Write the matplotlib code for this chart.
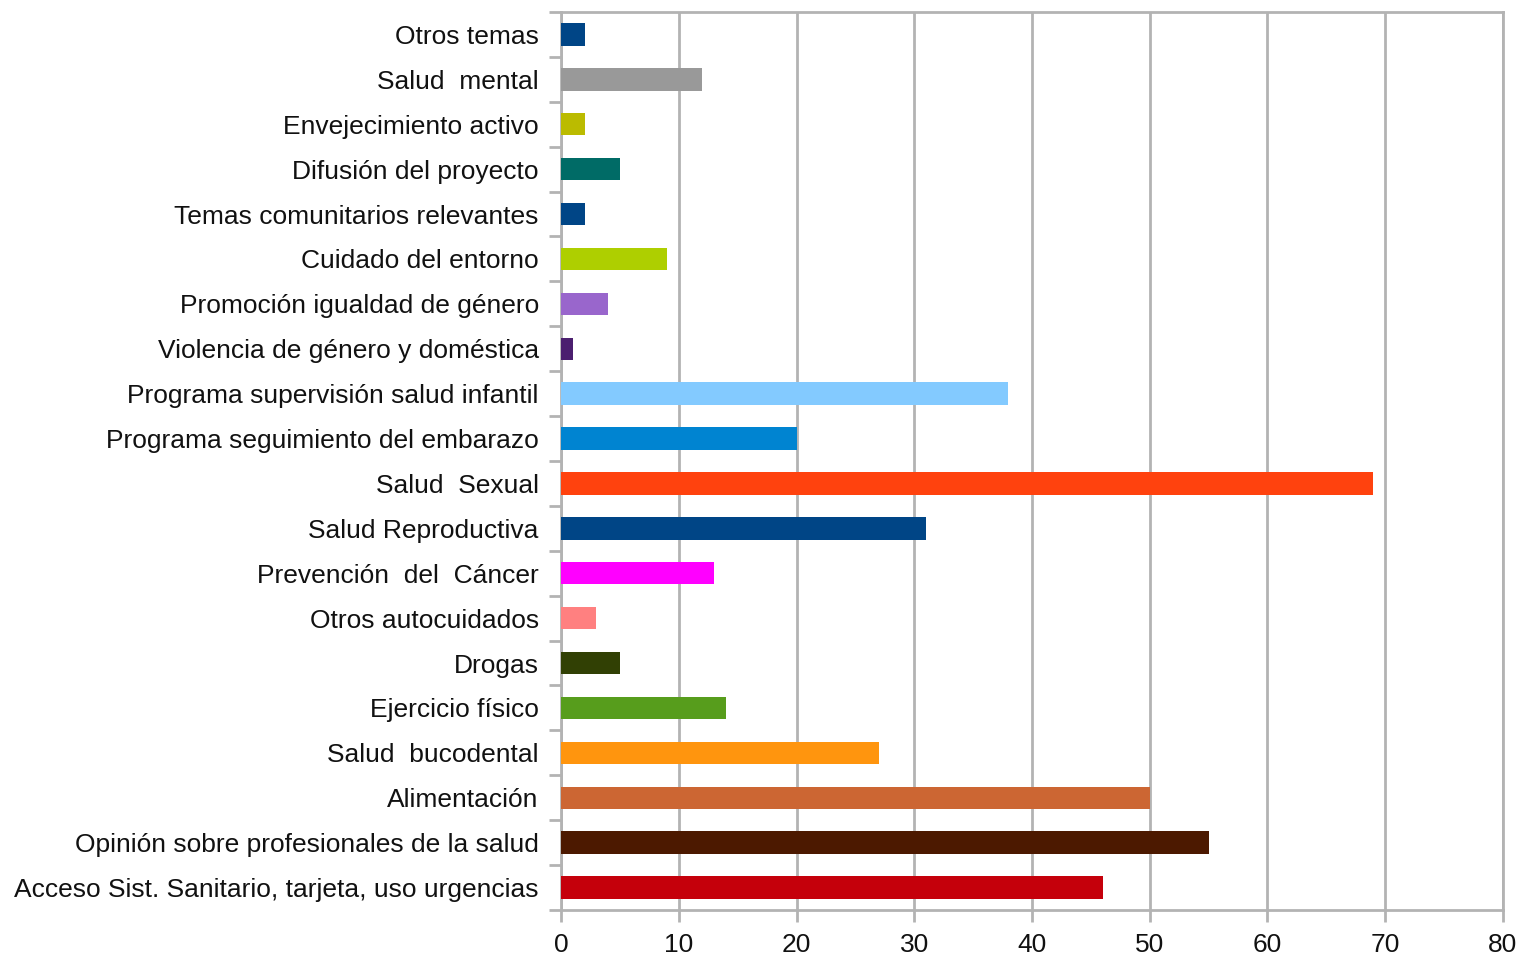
import matplotlib.pyplot as plt
import numpy as np

# categories listed from bottom to top of the chart
temas = ['Acceso Sist. Sanitario, tarjeta, uso urgencias',
         'Opinión sobre profesionales de la salud',
         'Alimentación',
         'Salud  bucodental',
         'Ejercicio físico',
         'Drogas',
         'Otros autocuidados',
         'Prevención  del  Cáncer',
         'Salud Reproductiva',
         'Salud  Sexual',
         'Programa seguimiento del embarazo',
         'Programa supervisión salud infantil',
         'Violencia de género y doméstica',
         'Promoción igualdad de género',
         'Cuidado del entorno',
         'Temas comunitarios relevantes',
         'Difusión del proyecto',
         'Envejecimiento activo',
         'Salud  mental',
         'Otros temas']
valores = [46, 55, 50, 27, 14, 5, 3, 13, 31, 69, 20, 38, 1, 4, 9, 2, 5, 2, 12, 2]
colores = ['#c5000b', '#4c1900', '#cc6633', '#ff950e', '#579d1c', '#314004',
           '#ff8080', '#ff00ff', '#004586', '#ff420e', '#0084d1', '#83caff',
           '#4b1f6f', '#9966cc', '#aecf00', '#004586', '#006b66', '#bbbb00',
           '#999999', '#004586']

gris = '#b3b3b3'
plt.rcParams['font.family'] = ['Liberation Sans', 'DejaVu Sans']

fig = plt.figure(figsize=(15.22, 9.57), dpi=100)
ax = fig.add_axes([0.3686, 0.0491, 0.9875 - 0.3686, 0.9875 - 0.0491])

y = np.arange(len(temas))
ax.barh(y, valores, height=0.5, color=colores, zorder=3)

ax.set_xlim(0, 80)
ax.set_ylim(-0.5, len(temas) - 0.5)
ax.set_xticks(range(0, 81, 10))
ax.set_yticks(y)
ax.set_yticklabels(temas)
ax.set_yticks(np.arange(-0.5, len(temas), 1), minor=True)

ax.grid(axis='x', color=gris, linewidth=2, zorder=0)
for s in ax.spines.values():
    s.set_color(gris)
    s.set_linewidth(2)

ax.tick_params(axis='y', which='major', length=0, pad=16, labelsize=19,
               labelcolor='#111111')
ax.tick_params(axis='y', which='minor', length=8.6, width=2, color=gris)
ax.tick_params(axis='x', which='major', length=8.6, width=2, color=gris,
               pad=8, labelsize=19, labelcolor='#111111')

fig.savefig('out.png', dpi=100)
